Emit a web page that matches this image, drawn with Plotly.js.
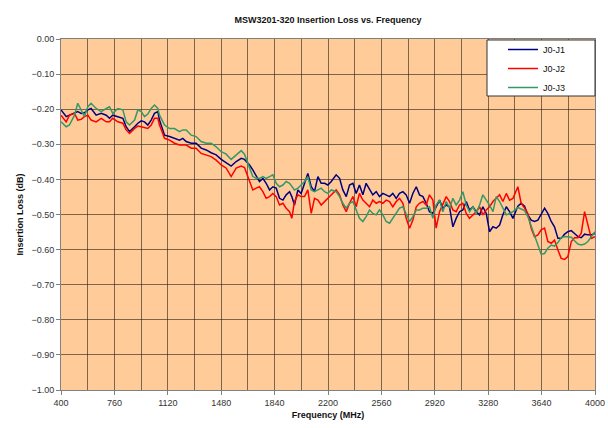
<!DOCTYPE html>
<html>
<head>
<meta charset="utf-8">
<script src="https://cdn.plot.ly/plotly-3.0.1.min.js"></script>
<style>html,body{margin:0;padding:0;background:#fff;}#chart{width:608px;height:428px;}</style>
</head>
<body>
<div id="chart"></div>
<script>
// Frequency (MHz)
const freq = [400,435,457,491,513,536,558,581,603,637,671,705,727,749,783,817,839,862,896,918,941,963,985,1008,1030,1053,
1064,1098,1132,1165,1199,1221,1244,1278,1311,1345,1379,1412,1446,1480,1514,1547,1581,1615,
1637,1671,1693,1716,1738,1761,1783,1806,1828,1851,1873,1896,1918,1941,1956,1974,1997,2019,2042,2064,2087,2109,2132,2154,2177,2199,2222,
2255,2278,2300,2323,2345,2368,2390,2412,2435,2457,2480,2502,2525,2547,2570,2592,2615,2637,2660,2682,2705,2727,2750,2772,2795,2817,2840,
2862,2884,2907,2929,2952,2974,2997,3019,3042,3064,3087,3109,3132,3154,3177,3199,3222,3244,3267,3289,3312,3334,3357,3379,3402,3424,3447,
3480,3502,3525,3547,3570,3592,3615,3637,3660,3682,3705,3727,3750,3772,3795,3817,3840,3862,3885,3907,3930,3952,3975,4000];

// Insertion loss (dB), J0-J1
const j0j1 = [-0.202,-0.221,-0.217,-0.212,-0.207,-0.212,-0.210,-0.202,-0.198,-0.217,-0.212,-0.217,-0.226,-0.217,-0.221,-0.226,-0.250,-0.264,-0.250,-0.240,-0.233,-0.236,-0.245,-0.231,-0.212,-0.207,
-0.231,-0.274,-0.278,-0.283,-0.288,-0.283,-0.292,-0.297,-0.297,-0.311,-0.316,-0.324,-0.330,-0.343,-0.354,-0.362,-0.349,-0.340,
-0.343,-0.359,-0.373,-0.392,-0.406,-0.397,-0.411,-0.430,-0.421,-0.425,-0.454,-0.459,-0.444,-0.435,-0.449,-0.473,-0.430,-0.440,-0.411,-0.383,-0.421,-0.435,-0.392,-0.411,-0.411,-0.416,-0.406,
-0.387,-0.397,-0.430,-0.449,-0.416,-0.411,-0.440,-0.416,-0.444,-0.411,-0.430,-0.444,-0.435,-0.449,-0.440,-0.444,-0.449,-0.440,-0.454,-0.440,-0.435,-0.444,-0.468,-0.440,-0.421,-0.444,-0.449,
-0.468,-0.492,-0.497,-0.478,-0.459,-0.482,-0.473,-0.478,-0.535,-0.511,-0.492,-0.487,-0.463,-0.487,-0.478,-0.492,-0.501,-0.478,-0.497,-0.549,-0.535,-0.539,-0.530,-0.501,-0.478,-0.492,-0.511,
-0.476,-0.468,-0.476,-0.501,-0.516,-0.520,-0.516,-0.501,-0.482,-0.497,-0.520,-0.535,-0.568,-0.568,-0.556,-0.549,-0.546,-0.554,-0.563,-0.566,-0.556,-0.558,-0.558,-0.554];

// Insertion loss (dB), J0-J2
const j0j2 = [-0.217,-0.236,-0.217,-0.212,-0.231,-0.229,-0.221,-0.217,-0.231,-0.236,-0.226,-0.236,-0.236,-0.226,-0.236,-0.240,-0.259,-0.269,-0.255,-0.248,-0.250,-0.252,-0.255,-0.245,-0.226,-0.226,
-0.245,-0.283,-0.288,-0.297,-0.302,-0.302,-0.302,-0.311,-0.311,-0.326,-0.330,-0.335,-0.345,-0.359,-0.368,-0.392,-0.368,-0.362,
-0.366,-0.402,-0.430,-0.425,-0.421,-0.435,-0.454,-0.449,-0.440,-0.449,-0.473,-0.468,-0.482,-0.492,-0.511,-0.463,-0.444,-0.449,-0.449,-0.430,-0.497,-0.454,-0.459,-0.473,-0.463,-0.454,-0.444,
-0.430,-0.444,-0.473,-0.492,-0.468,-0.449,-0.478,-0.440,-0.459,-0.468,-0.478,-0.459,-0.468,-0.463,-0.468,-0.459,-0.463,-0.478,-0.463,-0.454,-0.468,-0.511,-0.539,-0.516,-0.478,-0.468,-0.463,
-0.473,-0.444,-0.459,-0.539,-0.492,-0.473,-0.449,-0.463,-0.487,-0.492,-0.473,-0.468,-0.497,-0.511,-0.501,-0.492,-0.478,-0.501,-0.487,-0.478,-0.463,-0.454,-0.444,-0.463,-0.440,-0.459,-0.454,
-0.421,-0.468,-0.482,-0.497,-0.539,-0.563,-0.558,-0.544,-0.539,-0.577,-0.582,-0.573,-0.601,-0.625,-0.628,-0.620,-0.577,-0.566,-0.566,-0.554,-0.492,-0.530,-0.568,-0.563];

// Insertion loss (dB), J0-J3
const j0j3 = [-0.236,-0.250,-0.245,-0.217,-0.183,-0.202,-0.221,-0.193,-0.183,-0.198,-0.207,-0.198,-0.193,-0.212,-0.198,-0.202,-0.236,-0.245,-0.231,-0.202,-0.207,-0.221,-0.214,-0.198,-0.188,-0.198,
-0.217,-0.245,-0.255,-0.255,-0.264,-0.259,-0.259,-0.274,-0.278,-0.292,-0.297,-0.297,-0.307,-0.321,-0.328,-0.343,-0.330,-0.318,
-0.328,-0.368,-0.392,-0.397,-0.397,-0.392,-0.397,-0.392,-0.387,-0.411,-0.421,-0.416,-0.406,-0.411,-0.421,-0.430,-0.425,-0.416,-0.406,-0.392,-0.430,-0.435,-0.430,-0.425,-0.435,-0.440,-0.430,
-0.435,-0.449,-0.468,-0.482,-0.468,-0.463,-0.487,-0.511,-0.520,-0.506,-0.487,-0.497,-0.501,-0.487,-0.501,-0.520,-0.525,-0.511,-0.497,-0.482,-0.478,-0.497,-0.520,-0.506,-0.487,-0.487,-0.482,
-0.482,-0.478,-0.511,-0.473,-0.459,-0.492,-0.463,-0.482,-0.454,-0.473,-0.459,-0.435,-0.473,-0.492,-0.478,-0.497,-0.473,-0.444,-0.459,-0.473,-0.492,-0.449,-0.463,-0.482,-0.501,-0.497,-0.492,
-0.480,-0.485,-0.489,-0.506,-0.535,-0.558,-0.587,-0.613,-0.611,-0.596,-0.587,-0.590,-0.580,-0.566,-0.563,-0.563,-0.565,-0.575,-0.584,-0.587,-0.584,-0.577,-0.565,-0.549];

const seriesNames = ['J0-J1','J0-J2','J0-J3'];
const seriesColors = ['#000080','#FF0000','#339966'];
const seriesData = [j0j1, j0j2, j0j3];

const FONT = 'Liberation Sans, Arial, sans-serif';
const gridCol = 'rgba(40,30,20,0.6)';

const traces = seriesData.map((ys, i) => ({
  x: freq, y: ys, type: 'scatter', mode: 'lines', name: seriesNames[i],
  line: {color: seriesColors[i], width: 1.5}
}));

const layout = {
  width: 608, height: 428,
  margin: {l: 61, r: 13, t: 39, b: 38},
  paper_bgcolor: '#ffffff',
  plot_bgcolor: '#FFCC99',
  font: {family: FONT, size: 9, color: '#222'},
  title: {text: '<b>MSW3201-320 Insertion Loss vs. Frequency</b>', font: {family: FONT, size: 9, color: '#111'},
          x: 0.5, xref: 'paper', xanchor: 'center', y: 1 - 20/428, yref: 'container', yanchor: 'middle'},
  xaxis: {
    range: [400, 4000], tick0: 400, dtick: 360, tickformat: 'd',
    showgrid: true, gridcolor: gridCol, gridwidth: 1,
    minor: {tick0: 400, dtick: 180, showgrid: true, gridcolor: gridCol, gridwidth: 1, ticks: ''},
    showline: true, linecolor: '#808080', linewidth: 1, mirror: true,
    ticks: 'outside', ticklen: 4, tickcolor: '#808080',
    tickfont: {family: FONT, size: 9, color: '#333'},
    zeroline: false,
    title: {text: '<b>Frequency (MHz)</b>', font: {family: FONT, size: 9, color: '#111'}, standoff: 4}
  },
  yaxis: {
    range: [-1, 0], dtick: 0.1, tickformat: '.2f',
    showgrid: true, gridcolor: gridCol, gridwidth: 1,
    showline: true, linecolor: '#808080', linewidth: 1, mirror: true,
    ticks: 'outside', ticklen: 4, tickcolor: '#808080',
    tickfont: {family: FONT, size: 9, color: '#333'},
    zeroline: false,
    title: {text: '<b>Insertion Loss (dB)</b>', font: {family: FONT, size: 9, color: '#111'}, standoff: 6}
  },
  shapes: [{type: 'rect', xref: 'paper', yref: 'paper', layer: 'above',
    x0: (487-61)/534, x1: 1, y0: 1 - (96-39)/351, y1: 1 - 1/351,
    fillcolor: '#ffffff', line: {color: '#333', width: 1}}],
  legend: {x: (503-61)/534, y: 1 + 4/351, xanchor: 'left', yanchor: 'top',
    bgcolor: 'rgba(0,0,0,0)', borderwidth: 0,
    font: {family: FONT, size: 9, color: '#111'}, itemwidth: 30},
  showlegend: true
};

Plotly.newPlot('chart', traces, layout, {staticPlot: true, displayModeBar: false});
</script>
</body>
</html>
